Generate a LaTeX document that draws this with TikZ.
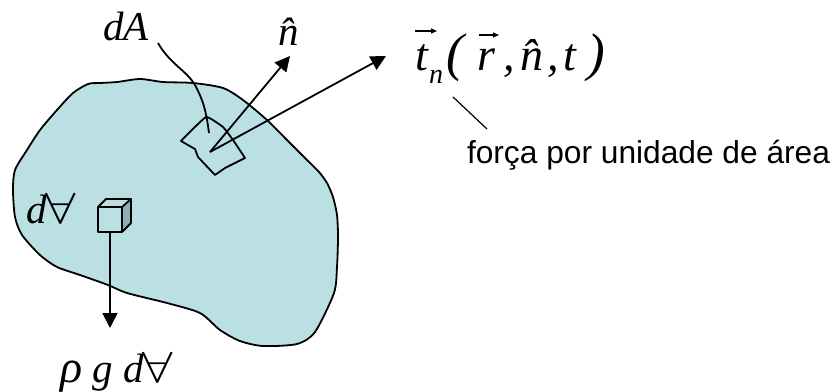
\documentclass[tikz,border=0pt]{standalone}
\usepackage{fontspec}
\setmainfont{Liberation Serif}
\setsansfont{Liberation Sans}
\usetikzlibrary{arrows.meta}
\definecolor{bodyfill}{HTML}{BAE0E4}
\definecolor{cubeside}{HTML}{8FB0B2}
\newcommand{\fsz}[1]{\fontsize{#1}{#1}\selectfont}
\newcommand{\fa}{\fsz{24}\scalebox{2.2}[1.75]{$\forall$}}
\tikzset{
  x=1pt,y=-1pt,
  ln/.style={draw=black,line width=1.8pt,line join=round},
  arrowline/.style={ln,-{Triangle[length=15pt,width=15pt]}},
  lbl/.style={inner sep=0pt,outer sep=0pt,anchor=base west},
  vecbar/.style={draw=black,line width=1.2pt,-{Triangle[length=6pt,width=5pt]}}
}
\begin{document}
\begin{tikzpicture}
\useasboundingbox (0,0) rectangle (835,391);
% body
\draw[ln,fill=bodyfill] plot[smooth cycle,tension=0.45] coordinates {
(13,190)(15,170)(27,150)(40,130)(57,110)(73,93)(88,84)(100,83)(117,82)(140,79)(163,82)(193,83)(223,88)(243,100)(267,120)(287,140)(307,160)(319,172)(327,183)(333,197)(337,215)(338,237)(337,267)(334,293)(315,332)(297,344)(263,346)(240,341)(220,330)(200,313)(167,303)(127,293)(108,285)(80,275)(57,267)(40,255)(22,235)(15,217)};
% patch
\draw[ln] plot[smooth,tension=0.2] coordinates {(181,141)(206,117)(223,127)(233,140)(245,158)}
  -- (225,168) -- (215,175) -- (198,157) -- (195,149) -- cycle;
% dA leader
\coordinate (leadA) at (158,43);
\coordinate (leadB) at (209,133);
\draw[ln] (leadA) .. controls (170,64) and (186,70) .. (195,85) .. controls (203,100) and (206,110) .. (leadB);
% arrows
\coordinate (orig) at (210,152);
\coordinate (ntip) at (290,56);
\coordinate (ttip) at (386,56);
\draw[arrowline] (orig) -- (ntip);
\draw[arrowline] (orig) -- (ttip);
% cube
\fill[cubeside] (122,207) -- (131,199) -- (131,223) -- (122,232) -- cycle;
\draw[ln,fill=bodyfill] (98,207) rectangle (122,232);
\draw[ln] (98,207) -- (106,199) -- (131,199) -- (122,207);
\draw[ln] (131,199) -- (131,223) -- (122,232);
\coordinate (cubeb) at (110,232);
\coordinate (gtip) at (110,328);
\draw[arrowline] (cubeb) -- (gtip);
% labels
\node[lbl] (dAl) at (103,40) {\fsz{41}\itshape dA};
\node[lbl] (nl) at (278,45) {\fsz{41}\itshape \^n};
\node[lbl] (dvd) at (26,223) {\fsz{41}\itshape d};
\node[lbl] (dvv) at (45,223) {\fa};
\node[lbl] (rho) at (60,382) {\fsz{46}\itshape ρ};
\node[lbl] (gl) at (92,382) {\fsz{41}\itshape g};
\node[lbl] (dd) at (123,382) {\fsz{41}\itshape d};
\node[lbl] (dv) at (142,382) {\fa};
% t_n(r,n,t)
\node[lbl] (t1) at (415,70) {\fsz{46}\itshape t};
\node[lbl] (sub) at (429,83) {\fsz{28}\itshape n};
\node[lbl] (po) at (446,70) {\fsz{53}\itshape (};
\node[lbl] (r1) at (477,70) {\fsz{46}\itshape r};
\node[lbl] (c1) at (503,70) {\fsz{46}\itshape ,};
\node[lbl] (n1) at (520,70) {\fsz{46}\itshape \^n};
\node[lbl] (c2) at (547,70) {\fsz{46}\itshape ,};
\node[lbl] (t2) at (563,70) {\fsz{46}\itshape t};
\node[lbl] (pc) at (587,70) {\fsz{53}\itshape )};
\coordinate (v1a) at (415,31); \coordinate (v1b) at (437,31);
\coordinate (v2a) at (479,35); \coordinate (v2b) at (499,35);
\draw[vecbar] (v1a) -- (v1b);
\draw[vecbar] (v2a) -- (v2b);
% annotation
\coordinate (la) at (453,97);
\coordinate (lb) at (487,129);
\draw[draw=black,line width=1.2pt] (la) -- (lb);
\node[lbl] (force) at (467,163) {\fsz{31.7}\sffamily força por unidade de área};
\end{tikzpicture}
\end{document}
